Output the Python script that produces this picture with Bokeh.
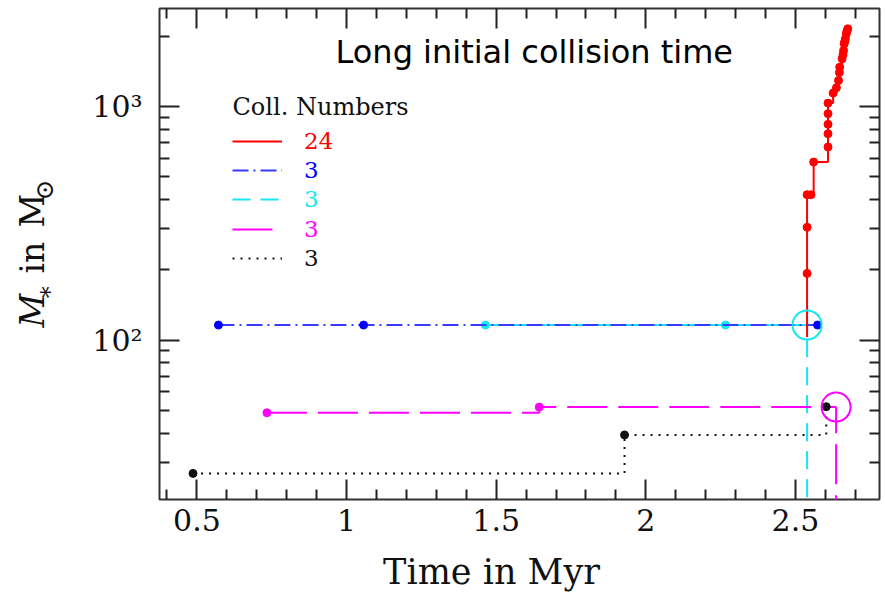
import numpy as np
from bokeh.plotting import figure
from bokeh.layouts import row, column
from bokeh.models import (FixedTicker, LinearAxis, LogAxis, Label, Legend,
                          LegendItem, Range1d)
from bokeh.embed import file_html
from bokeh.resources import INLINE

# ---- collision histories: time [Myr] and stellar mass after each collision [Msun]
red_start_t, red_start_m = 2.539, 103.0
red_t = [2.539, 2.539, 2.539, 2.552, 2.561, 2.609, 2.609, 2.609, 2.609, 2.609,
         2.626, 2.637, 2.644, 2.647, 2.648, 2.656, 2.659, 2.661, 2.663, 2.665,
         2.667, 2.670, 2.672, 2.675]
red_m = [193, 304, 419, 419, 578, 670, 764, 838, 931, 1033,
         1140, 1202, 1291, 1397, 1472, 1599, 1665, 1735, 1853, 1900,
         1947, 2045, 2095, 2148]

blue_t = [0.572, 1.057, 2.574]
blue_m = [116, 116, 116]

cyan_t = [1.464, 2.266]
cyan_m = [116, 116]
cyan_merge_t = 2.539

magenta_t = [0.734, 1.644]
magenta_m = [48.9, 51.7]
magenta_merge_t = 2.636

black_t = [0.487, 1.929, 2.603]
black_m = [26.9, 39.3, 51.9]

legend_labels = ["24", "3", "3", "3", "3"]

x_ticks = [0.5, 1.0, 1.5, 2.0, 2.5]
x_tick_labels = ["0.5", "1", "1.5", "2", "2.5"]
y_ticks = [100, 1000]
y_tick_labels = ["10²", "10³"]

# merged stars are drawn dropping off the bottom of the mass axis
FLOOR = 1.0

RED, BLUE, BLUE_LINE = "#ff0000", "#0000ff", "#3b3bff"
CYAN, MAGENTA, BLACK = "#14e8f2", "#ff00ff", "#111111"
SERIF = "DejaVu Serif"

W, H = 885, 593
YLAB_W = 60          # strip left of the plot carrying the y-axis title
XLAB_H = 45          # strip below the plot carrying the x-axis title
TOP_H = H - XLAB_H


def step_path(t, m, x0=None, y0=None, t_end=None, m_end=None):
    """Mass stays constant between collisions and jumps at each one."""
    xs, ys = [], []
    if x0 is not None:
        xs, ys = [x0], [y0]
    for ti, mi in zip(t, m):
        if xs:
            xs.append(ti)
            ys.append(ys[-1])
        xs.append(ti)
        ys.append(mi)
    if t_end is not None:
        xs.append(t_end)
        ys.append(ys[-1])
        if m_end is not None:
            xs.append(t_end)
            ys.append(m_end)
    return xs, ys


def text_strip(width, height):
    f = figure(width=width, height=height, x_range=Range1d(0, width),
               y_range=Range1d(0, height), output_backend="svg",
               toolbar_location=None, min_border=0,
               x_axis_location=None, y_axis_location=None)
    f.grid.visible = False
    f.outline_line_color = None
    f.background_fill_color = "white"
    f.border_fill_color = "white"
    f.frame_align = False
    return f


p = figure(width=W - YLAB_W, height=TOP_H, y_axis_type="log",
           x_range=Range1d(0.375, 2.781), y_range=Range1d(20.8, 2624),
           output_backend="svg", toolbar_location=None,
           min_border_left=159 - YLAB_W, min_border_right=6,
           min_border_top=8, min_border_bottom=TOP_H - 499)
p.frame_align = False
p.grid.visible = False
p.outline_line_color = "#333333"
p.outline_line_width = 2
p.background_fill_color = "white"
p.border_fill_color = "white"

# ---- axes (ticks on all four sides, pointing inward)
x_minor = [round(v, 1) for v in np.arange(0.4, 2.75, 0.1)
           if abs(v * 2 - round(v * 2)) > 1e-6]
y_minor = [30, 40, 50, 60, 70, 80, 90, 200, 300, 400, 500, 600, 700, 800, 900, 2000]
x_ticker = FixedTicker(ticks=x_ticks, minor_ticks=x_minor)
y_ticker = FixedTicker(ticks=y_ticks, minor_ticks=y_minor)

bottom_axis = p.below[0]
left_axis = p.left[0]
top_axis = LinearAxis()
right_axis = LogAxis()
p.add_layout(top_axis, "above")
p.add_layout(right_axis, "right")


def style_axis(ax, ticker, labels, font_size):
    ax.ticker = ticker
    ax.axis_line_color = None
    ax.major_tick_in = 20
    ax.major_tick_out = 0
    ax.minor_tick_in = 10
    ax.minor_tick_out = 0
    ax.major_tick_line_color = "#222222"
    ax.minor_tick_line_color = "#222222"
    ax.major_tick_line_width = 2
    ax.minor_tick_line_width = 2
    ax.major_label_overrides = labels
    ax.major_label_text_font = SERIF
    ax.major_label_text_font_size = font_size
    ax.major_label_text_color = "#111111"


style_axis(bottom_axis, x_ticker, dict(zip(x_ticks, x_tick_labels)), "30px")
style_axis(left_axis, y_ticker, dict(zip(y_ticks, y_tick_labels)), "30px")
style_axis(top_axis, x_ticker, {t: "" for t in x_ticks}, "1px")
style_axis(right_axis, y_ticker, {t: "" for t in y_ticks}, "1px")
bottom_axis.major_label_standoff = 9
left_axis.major_label_standoff = 17
top_axis.major_label_standoff = 0
right_axis.major_label_standoff = 0

# ---- tracks
cx, cy = step_path(cyan_t, cyan_m, t_end=cyan_merge_t, m_end=FLOOR)
cyan_r = p.line(cx, cy, color=CYAN, line_width=2, line_dash="18 10")
p.scatter(cyan_t, cyan_m, size=8, color=CYAN)

bx, by = step_path(blue_t, blue_m)
blue_r = p.line(bx, by, color=BLUE_LINE, line_width=2, line_dash="16 5 2 5")
p.scatter(blue_t, blue_m, size=8, color=BLUE)

mx, my = step_path(magenta_t, magenta_m, t_end=magenta_merge_t, m_end=FLOOR)
mag_r = p.line(mx, my, color=MAGENTA, line_width=2, line_dash="40 11")
p.scatter(magenta_t, magenta_m, size=8, color=MAGENTA)

kx, ky = step_path(black_t, black_m)
black_r = p.line(kx, ky, color=BLACK, line_width=2, line_dash="2 6")
p.scatter(black_t, black_m, size=8, color=BLACK)

rx, ry = step_path(red_t, red_m, x0=red_start_t, y0=red_start_m)
red_r = p.line(rx, ry, color=RED, line_width=2)
p.scatter(red_t, red_m, size=8, color=RED)

# open circles where the cyan and magenta stars merge
p.scatter([cyan_merge_t], [cyan_m[-1]], size=29, fill_color=None,
          line_color=CYAN, line_width=2)
p.scatter([magenta_merge_t], [magenta_m[-1]], size=29, fill_color=None,
          line_color=MAGENTA, line_width=2)

# ---- legend: one entry per star, number drawn in the track colour
p.add_layout(Label(x=73, y=393, x_units="screen", y_units="screen",
                   text="Coll. Numbers", text_font=SERIF,
                   text_font_size="24px", text_color="#111111",
                   text_baseline="alphabetic"))
rows = [(red_r, RED), (blue_r, BLUE), (cyan_r, CYAN), (mag_r, MAGENTA),
        (black_r, BLACK)]
row_centres = [141, 170, 199, 229, 258]
for (rend, col), lab, yc in zip(rows, legend_labels, row_centres):
    lg = Legend(items=[LegendItem(label=lab, renderers=[rend])],
                location=(73, 499 - (yc + 15)), margin=0, padding=0,
                spacing=0, glyph_width=50, glyph_height=30, label_height=30,
                label_standoff=22, label_text_font=SERIF,
                label_text_font_size="23px", label_text_color=col,
                background_fill_alpha=0, border_line_color=None)
    p.add_layout(lg)

# ---- title inside the frame
p.add_layout(Label(x=176, y=448, x_units="screen", y_units="screen",
                   text="Long initial collision time", text_font="DejaVu Sans",
                   text_font_size="32px", text_color="black",
                   text_baseline="alphabetic"))

# ---- x-axis title strip
xlab = text_strip(W, XLAB_H)
xlab.add_layout(Label(x=491, y=22, x_units="screen", y_units="screen",
                      text="Time in Myr", text_font=SERIF,
                      text_font_size="35px", text_color="#111111",
                      text_align="center", text_baseline="alphabetic"))

# ---- y-axis title strip: M_* in M_sun
ylab = text_strip(YLAB_W, TOP_H)
ylabel_parts = [
    ("M", 32, 327, "33px", "italic"),
    ("\u2217", 44, 300, "24px", "normal"),
    ("in", 32, 273, "33px", "normal"),
    ("M", 32, 227, "33px", "normal"),
    ("\u2299", 44, 200, "25px", "normal"),
]
for txt, px, py, fs, style in ylabel_parts:
    ylab.add_layout(Label(x=px, y=TOP_H - py, x_units="screen",
                          y_units="screen", text=txt, angle=np.pi / 2,
                          text_font=SERIF, text_font_size=fs,
                          text_font_style=style, text_color="#111111",
                          text_baseline="alphabetic"))

layout = column(row(ylab, p, spacing=0), xlab, spacing=0)
open("out.html", "w").write(file_html(layout, INLINE))
